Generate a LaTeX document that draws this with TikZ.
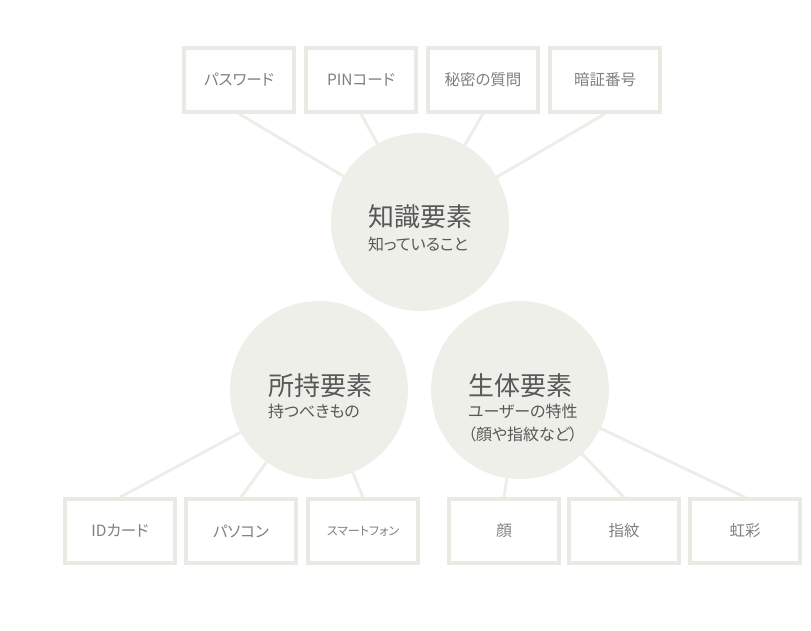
\documentclass[tikz,border=0pt]{standalone}
\usepackage{fontspec}
\setmainfont{Noto Sans CJK JP}[RawFeature=+palt]
\usetikzlibrary{backgrounds}
\definecolor{waku}{HTML}{EAE9E4}
\definecolor{maru}{HTML}{EFEFEA}
\definecolor{sen}{HTML}{EEEEE9}
\definecolor{moji}{HTML}{808080}
\definecolor{midashi}{HTML}{585858}
\begin{document}
\begin{tikzpicture}
[x=1pt, y=-1pt,
 itembox/.style={draw=waku, line width=3.5pt, fill=white, minimum width=110pt, minimum height=64pt, inner sep=0pt, text=moji, font=\fontsize{15.5}{18}\selectfont},
 elem/.style={circle, fill=maru, minimum size=178pt, inner sep=0pt},
 elemtitle/.style={inner sep=0pt, text=midashi, font=\fontsize{26}{30}\selectfont},
 elemnote/.style={inner sep=0pt, anchor=north west, align=left, text=midashi, font=\fontsize{16}{23}\selectfont},
 link/.style={draw=sen, line width=3pt},
]
\useasboundingbox (0,0) rectangle (811,630);

%chishiki
\node[elem] (chishiki) at (420,222) {};
\node[elemtitle] (chishiki-t) at (420,217) {知識要素};
\node[elemnote] (chishiki-n) at ([yshift=-8pt]chishiki-t.south west) {知っていること};

%shoji
\node[elem] (shoji) at (319,390) {};
\node[elemtitle] (shoji-t) at (320,386) {所持要素};
\node[elemnote] (shoji-n) at ([yshift=-6pt]shoji-t.south west) {持つべきもの};

%seitai
\node[elem] (seitai) at (520,390) {};
\node[elemtitle] (seitai-t) at (520,386) {生体要素};
\node[elemnote] (seitai-n) at ([yshift=-6pt]seitai-t.south west) {ユーザーの特性\\（顔や指紋など）};

%top boxes
\node[itembox] (pw) at (239,80) {パスワード};
\node[itembox] (pin) at (361,80) {PINコード};
\node[itembox] (himitsu) at (483,80) {秘密の質問};
\node[itembox] (anshou) at (605,80) {暗証番号};

%bottom boxes
\node[itembox] (id) at (120,531) {IDカード};
\node[itembox] (pc) at (241,531) {パソコン};
\node[itembox, font=\fontsize{12}{14}\selectfont] (sumaho) at (363,531) {スマートフォン};
\node[itembox] (kao) at (504,531) {顔};
\node[itembox] (shimon) at (624,531) {指紋};
\node[itembox] (kousai) at (745,531) {虹彩};

%links
\begin{scope}[on background layer]
\draw[link] (pw.south) -- (chishiki.center);
\draw[link] (pin.south) -- (chishiki.center);
\draw[link] (himitsu.south) -- (chishiki.center);
\draw[link] (anshou.south) -- (chishiki.center);
\draw[link] (id.north) -- (shoji.center);
\draw[link] (pc.north) -- (shoji.center);
\draw[link] (sumaho.north) -- (shoji.center);
\draw[link] (kao.north) -- (seitai.center);
\draw[link] (shimon.north) -- (seitai.center);
\draw[link] (kousai.north) -- (seitai.center);
\end{scope}

\end{tikzpicture}
\end{document}
